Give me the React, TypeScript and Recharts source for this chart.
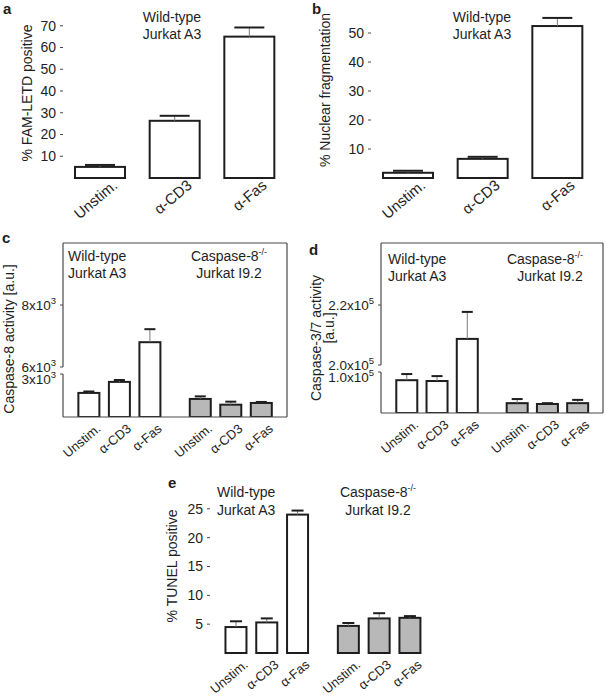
import React from 'react';
import { BarChart, Bar, XAxis, YAxis, ReferenceArea, ReferenceLine } from 'recharts';

const FONT = '"Liberation Sans", Arial, Helvetica, sans-serif';
const INK = '#1e1e1e';
const BOX = '#4a4a4a';
const GREY_FILL = '#b8b8b8';

// ---------- data ----------
const categories = ['Unstim.', 'α-CD3', 'α-Fas'];

const famLetd = [5.1, 26.3, 65.0];
const famLetdErr = [0.9, 2.3, 4.2];
const ticksA = [10, 20, 30, 40, 50, 60, 70];

const nuclearFrag = [1.8, 6.6, 52.4];
const nuclearFragErr = [0.7, 0.7, 2.8];
const ticksB = [10, 20, 30, 40, 50];

const casp8WT = [1680, 2450, 6800];
const casp8WTErr = [100, 130, 420];
const casp8KO = [1260, 860, 980];
const casp8KOErr = [180, 210, 70];
const ticksC = [
  { v: 3000, base: '3x10', exp: '3' },
  { v: 6000, base: '6x10', exp: '3' },
  { v: 8000, base: '8x10', exp: '3' },
];

const casp37WT = [80000, 78000, 208700];
const casp37WTErr = [15000, 12000, 9000];
const casp37KO = [24000, 22000, 24000];
const casp37KOErr = [10000, 2000, 8000];
const ticksD = [
  { v: 100000, base: '1.0x10', exp: '5' },
  { v: 200000, base: '2.0x10', exp: '5' },
  { v: 220000, base: '2.2x10', exp: '5' },
];

const tunelWT = [4.5, 5.3, 24.0];
const tunelWTErr = [1.0, 0.7, 0.7];
const tunelKO = [4.7, 6.0, 6.1];
const tunelKOErr = [0.5, 0.9, 0.3];
const ticksE = [5, 10, 15, 20, 25];

// ---------- layout helpers ----------
const SLOTS = [1, 2, 3, 4.65, 5.65, 6.65];
const X_DOMAIN: [number, number] = [0.16, 7.5];

type Seg = { v0: number; v1: number; d0: number; d1: number };
// broken-axis scale pieces (value range -> display range)
const breakC: Seg[] = [
  { v0: 0, v1: 3000, d0: 0, d1: 43 },
  { v0: 6000, v1: 10000, d0: 50, d1: 174 },
];
const breakD: Seg[] = [
  { v0: 0, v1: 100000, d0: 0, d1: 41 },
  { v0: 200000, v1: 240000, d0: 48, d1: 168 },
];
const makeBroken = (segs: Seg[]) => (v: number) => {
  let s = segs[segs.length - 1];
  for (const seg of segs) {
    if (v <= seg.v1) { s = seg; break; }
  }
  return s.d0 + ((v - s.v0) * (s.d1 - s.d0)) / (s.v1 - s.v0);
};
const fC = makeBroken(breakC);
const fD = makeBroken(breakD);
const ident = (v: number) => v;

const simpleRows = (vals: number[], errs: number[]) =>
  vals.map((v, i) => ({ label: categories[i], v, top: v + errs[i], group: 'wt' }));

const groupedRows = (wt: number[], wtE: number[], ko: number[], koE: number[], tf: (v: number) => number) => [
  ...wt.map((v, i) => ({ pos: SLOTS[i], label: categories[i], group: 'wt', v: tf(v), top: tf(v + wtE[i]) })),
  ...ko.map((v, i) => ({ pos: SLOTS[i + 3], label: categories[i], group: 'ko', v: tf(v), top: tf(v + koE[i]) })),
];

const rowsA = simpleRows(famLetd, famLetdErr);
const rowsB = simpleRows(nuclearFrag, nuclearFragErr);
const rowsC = groupedRows(casp8WT, casp8WTErr, casp8KO, casp8KOErr, fC);
const rowsD = groupedRows(casp37WT, casp37WTErr, casp37KO, casp37KOErr, fD);
const rowsE = groupedRows(tunelWT, tunelWTErr, tunelKO, tunelKOErr, ident);

// ---------- renderers ----------
const barShape = (capW: number) => (props: any) => {
  const { x, y, width, height, payload } = props;
  const cx = x + width / 2;
  const k = payload.v > 0 ? height / payload.v : 0;
  const yErr = y - (payload.top - payload.v) * k;
  const fill = payload.group === 'ko' ? GREY_FILL : '#ffffff';
  return (
    <g>
      <rect x={x} y={y} width={width} height={height} fill={fill} stroke={INK} strokeWidth={2} />
      <line x1={cx} x2={cx} y1={y} y2={yErr} stroke="#7a7a7a" strokeWidth={1} />
      <line x1={cx - capW / 2} x2={cx + capW / 2} y1={yErr} y2={yErr} stroke={INK} strokeWidth={2} />
    </g>
  );
};

const rotTick = (dx0: number, dy0: number, fs: number, numeric: boolean) => (props: any) => {
  const { x, y, payload } = props;
  let label = payload.value;
  if (numeric) {
    const idx = SLOTS.findIndex((s) => Math.abs(s - payload.value) < 1e-6);
    label = categories[idx % 3];
  }
  const ax = x + dx0;
  const ay = y + dy0;
  return (
    <text x={ax} y={ay} textAnchor="end" transform={`rotate(-40 ${ax} ${ay})`} fontSize={fs} fontFamily={FONT} fill={INK}>
      {label}
    </text>
  );
};

const supTick = (labels: { d: number; base: string; exp: string; shift: number }[]) => (props: any) => {
  const { x, y, payload } = props;
  const lab = labels.find((l) => Math.abs(l.d - payload.value) < 1e-6);
  if (!lab) return <g />;
  return (
    <text x={x} y={y + 5 + lab.shift} textAnchor="end" fontSize={13.5} fontFamily={FONT} fill={INK}>
      {lab.base}
      <tspan dy={-6} fontSize={9.5}>{lab.exp}</tspan>
    </text>
  );
};

// the label at the lower end of the axis break sits slightly below its tick
const labelsC = ticksC.map((t, i) => ({ d: fC(t.v), base: t.base, exp: t.exp, shift: i === 0 ? 5 : 0 }));
const labelsD = ticksD.map((t, i) => ({ d: fD(t.v), base: t.base, exp: t.exp, shift: i === 0 ? 5 : 0 }));

const txt = { fontFamily: FONT, fill: INK } as const;

const PanelLetter = ({ x, y, c }: { x: number; y: number; c: string }) => (
  <text x={x} y={y} fontSize={15} fontWeight="bold" {...txt}>{c}</text>
);

const KOTitle = ({ x, y }: { x: number; y: number }) => (
  <text x={x} y={y} textAnchor="middle" fontSize={14} {...txt}>
    Caspase-8<tspan dy={-6} fontSize={9}>-/-</tspan>
  </text>
);

const boxSegments = (yTop: number, yLowEnd: number, yHighStart: number) => [
  <ReferenceLine key="top" ifOverflow="visible" stroke={BOX} strokeWidth={1.2} segment={[{ x: X_DOMAIN[0], y: yTop }, { x: X_DOMAIN[1], y: yTop }]} />,
  <ReferenceLine key="right" ifOverflow="visible" stroke={BOX} strokeWidth={1.2} segment={[{ x: X_DOMAIN[1], y: yTop }, { x: X_DOMAIN[1], y: 0 }]} />,
  <ReferenceLine key="bottom" ifOverflow="visible" stroke={BOX} strokeWidth={1.2} segment={[{ x: X_DOMAIN[1], y: 0 }, { x: X_DOMAIN[0], y: 0 }]} />,
  <ReferenceLine key="leftLow" ifOverflow="visible" stroke={BOX} strokeWidth={1.2} segment={[{ x: X_DOMAIN[0], y: yLowEnd }, { x: X_DOMAIN[0], y: 0 }]} />,
  <ReferenceLine key="leftHigh" ifOverflow="visible" stroke={BOX} strokeWidth={1.2} segment={[{ x: X_DOMAIN[0], y: yHighStart }, { x: X_DOMAIN[0], y: yTop }]} />,
];

export default function App() {
  return (
    <div style={{ position: 'absolute', left: 0, top: 0, width: 606, height: 697, background: '#fff', overflow: 'hidden' }}>
      {/* Panel a */}
      <div style={{ position: 'absolute', left: 0, top: 0 }}>
        <BarChart width={300} height={230} data={rowsA} margin={{ top: 4, right: 13, bottom: 0, left: 0 }}>
          <XAxis dataKey="label" height={52} axisLine={false} tickLine={false} tickSize={0} tickMargin={0} interval={0} tick={rotTick(18, 9, 15, false)} />
          <YAxis width={63} type="number" domain={[0, 80]} ticks={ticksA} interval={0} axisLine={false} tickSize={3} tickMargin={4} tickLine={{ stroke: BOX }} tick={{ fontSize: 14, fill: INK, fontFamily: FONT }} />
          <ReferenceArea fill="none" stroke={BOX} strokeWidth={1.2} />
          <Bar dataKey="v" barSize={50} isAnimationActive={false} shape={barShape(30)} />
          <PanelLetter x={3} y={14} c="a" />
          <text x={172} y={22} textAnchor="middle" fontSize={14} {...txt}>Wild-type</text>
          <text x={172} y={39} textAnchor="middle" fontSize={14} {...txt}>Jurkat A3</text>
          <text x={32} y={93} textAnchor="middle" transform="rotate(-90 32 93)" fontSize={14} {...txt}>% FAM-LETD positive</text>
        </BarChart>
      </div>

      {/* Panel b */}
      <div style={{ position: 'absolute', left: 300, top: 0 }}>
        <BarChart width={306} height={230} data={rowsB} margin={{ top: 4, right: 11, bottom: 0, left: 0 }}>
          <XAxis dataKey="label" height={52} axisLine={false} tickLine={false} tickSize={0} tickMargin={0} interval={0} tick={rotTick(18, 9, 15, false)} />
          <YAxis width={71} type="number" domain={[0, 60]} ticks={ticksB} interval={0} axisLine={false} tickSize={3} tickMargin={4} tickLine={{ stroke: BOX }} tick={{ fontSize: 14, fill: INK, fontFamily: FONT }} />
          <ReferenceArea fill="none" stroke={BOX} strokeWidth={1.2} />
          <Bar dataKey="v" barSize={50} isAnimationActive={false} shape={barShape(30)} />
          <PanelLetter x={12} y={14} c="b" />
          <text x={182} y={22} textAnchor="middle" fontSize={14} {...txt}>Wild-type</text>
          <text x={182} y={39} textAnchor="middle" fontSize={14} {...txt}>Jurkat A3</text>
          <text x={30} y={90} textAnchor="middle" transform="rotate(-90 30 90)" fontSize={14} {...txt}>% Nuclear fragmentation</text>
        </BarChart>
      </div>

      {/* Panel c */}
      <div style={{ position: 'absolute', left: 0, top: 230 }}>
        <BarChart width={300} height={230} data={rowsC} margin={{ top: 13, right: 13, bottom: 0, left: 0 }}>
          <XAxis dataKey="pos" type="number" domain={X_DOMAIN} ticks={SLOTS} allowDataOverflow height={43} axisLine={false} tickLine={false} tickSize={0} tickMargin={0} interval={0} tick={rotTick(13, 13, 13, true)} />
          <YAxis width={63} type="number" domain={[0, 174]} ticks={labelsC.map((l) => l.d)} interval={0} allowDataOverflow axisLine={false} tickSize={3} tickMargin={4} tickLine={{ stroke: BOX }} tick={supTick(labelsC)} />
          {boxSegments(174, fC(3000), fC(6000))}
          <Bar dataKey="v" barSize={21} isAnimationActive={false} shape={barShape(11)} />
          <PanelLetter x={2} y={13} c="c" />
          <text x={68} y={31} fontSize={14} {...txt}>Wild-type</text>
          <text x={68} y={48} fontSize={14} {...txt}>Jurkat A3</text>
          <KOTitle x={229} y={31} />
          <text x={229} y={48} textAnchor="middle" fontSize={14} {...txt}>Jurkat I9.2</text>
          <text x={14} y={109} textAnchor="middle" transform="rotate(-90 14 109)" fontSize={14} {...txt}>Caspase-8 activity [a.u.]</text>
        </BarChart>
      </div>

      {/* Panel d */}
      <div style={{ position: 'absolute', left: 300, top: 230 }}>
        <BarChart width={306} height={230} data={rowsD} margin={{ top: 13, right: 3, bottom: 0, left: 0 }}>
          <XAxis dataKey="pos" type="number" domain={X_DOMAIN} ticks={SLOTS} allowDataOverflow height={47} axisLine={false} tickLine={false} tickSize={0} tickMargin={0} interval={0} tick={rotTick(13, 13, 13, true)} />
          <YAxis width={81} type="number" domain={[0, 170]} ticks={labelsD.map((l) => l.d)} interval={0} allowDataOverflow axisLine={false} tickSize={3} tickMargin={4} tickLine={{ stroke: BOX }} tick={supTick(labelsD)} />
          {boxSegments(170, fD(100000), fD(200000))}
          <Bar dataKey="v" barSize={21} isAnimationActive={false} shape={barShape(11)} />
          <PanelLetter x={9} y={25} c="d" />
          <text x={88} y={34} fontSize={14} {...txt}>Wild-type</text>
          <text x={88} y={51} fontSize={14} {...txt}>Jurkat A3</text>
          <KOTitle x={245} y={34} />
          <text x={250} y={51} textAnchor="middle" fontSize={14} {...txt}>Jurkat I9.2</text>
          <text x={21} y={108} textAnchor="middle" transform="rotate(-90 21 108)" fontSize={14} {...txt}>Caspase-3/7 activity</text>
          <text x={34} y={98} textAnchor="middle" transform="rotate(-90 34 98)" fontSize={14} {...txt}>[a.u.]</text>
        </BarChart>
      </div>

      {/* Panel e */}
      <div style={{ position: 'absolute', left: 150, top: 460 }}>
        <BarChart width={320} height={237} data={rowsE} margin={{ top: 20, right: 34, bottom: 0, left: 0 }}>
          <XAxis dataKey="pos" type="number" domain={X_DOMAIN} ticks={SLOTS} allowDataOverflow height={44} axisLine={false} tickLine={false} tickSize={0} tickMargin={0} interval={0} tick={rotTick(13, 13, 13, true)} />
          <YAxis width={60} type="number" domain={[0, 30]} ticks={ticksE} interval={0} axisLine={false} tickSize={3} tickMargin={4} tickLine={{ stroke: BOX }} tick={{ fontSize: 14, fill: INK, fontFamily: FONT }} />
          <ReferenceArea fill="none" stroke={BOX} strokeWidth={1.2} />
          <Bar dataKey="v" barSize={21} isAnimationActive={false} shape={barShape(12)} />
          <PanelLetter x={18} y={28} c="e" />
          <text x={67} y={37} fontSize={14} {...txt}>Wild-type</text>
          <text x={67} y={55} fontSize={14} {...txt}>Jurkat A3</text>
          <KOTitle x={228} y={37} />
          <text x={228} y={55} textAnchor="middle" fontSize={14} {...txt}>Jurkat I9.2</text>
          <text x={27} y={106} textAnchor="middle" transform="rotate(-90 27 106)" fontSize={14} {...txt}>% TUNEL positive</text>
        </BarChart>
      </div>
    </div>
  );
}
